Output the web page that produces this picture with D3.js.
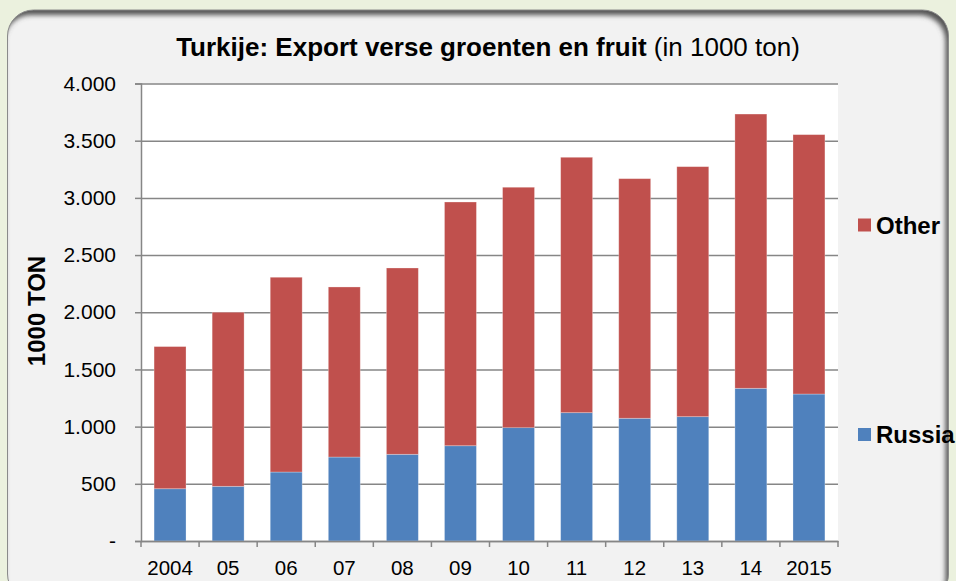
<!DOCTYPE html>
<html>
<head>
<meta charset="utf-8">
<script src="https://cdn.jsdelivr.net/npm/d3@7"></script>
<style>
  html, body { margin: 0; padding: 0; background: #ebf1de; }
  svg { display: block; font-family: Arial, "Liberation Sans", sans-serif; }
</style>
</head>
<body>
<div id="chart"></div>
<script>
// data (1000 ton)
var years = ["2004", "05", "06", "07", "08", "09", "10", "11", "12", "13", "14", "2015"];
var russia = [457, 478, 603, 734, 758, 833, 991, 1122, 1073, 1087, 1335, 1285];
var other = [1243, 1522, 1703, 1487, 1629, 2131, 2102, 2233, 2095, 2186, 2398, 2268];
var yTicks = [0, 500, 1000, 1500, 2000, 2500, 3000, 3500, 4000];
var seriesNames = ["Russia", "Other"];
var seriesColors = ["#4f81bd", "#c0504d"];

var full_width = 956, full_height = 581;
var plot = {left: 141, right: 838, top: 83.5, bottom: 541};

var svg = d3.select("#chart")
    .append("svg")
    .attr("width", full_width)
    .attr("height", full_height);

// rounded panel with an inner shadow on top / right
function roundRect(x, y, w, h, r) {
    return "M" + (x + r) + "," + y + "H" + (x + w - r) +
        "A" + r + "," + r + " 0 0 1 " + (x + w) + "," + (y + r) +
        "V" + (y + h - r) +
        "A" + r + "," + r + " 0 0 1 " + (x + w - r) + "," + (y + h) +
        "H" + (x + r) +
        "A" + r + "," + r + " 0 0 1 " + x + "," + (y + h - r) +
        "V" + (y + r) +
        "A" + r + "," + r + " 0 0 1 " + (x + r) + "," + y + "Z";
}
var panel = {x: 7.5, y: 10, w: 941, h: 590, r: 26};
var defs = svg.append("defs");
defs.append("clipPath").attr("id", "panelClip")
    .append("path").attr("d", roundRect(panel.x, panel.y, panel.w, panel.h, panel.r));
defs.append("filter").attr("id", "blur")
    .attr("x", "-10%").attr("y", "-10%").attr("width", "120%").attr("height", "120%")
    .append("feGaussianBlur").attr("stdDeviation", 2.5);

svg.append("path")
    .attr("d", roundRect(panel.x, panel.y, panel.w, panel.h, panel.r))
    .attr("fill", "#f2f2f2");

svg.append("g")
    .attr("clip-path", "url(#panelClip)")
    .append("path")
    .attr("d", "M-50,-50H1050V700H-50Z" + roundRect(panel.x - 3, panel.y + 5, panel.w, panel.h, panel.r))
    .attr("fill-rule", "evenodd")
    .attr("fill", "#555555")
    .attr("filter", "url(#blur)");

svg.append("path")
    .attr("d", roundRect(panel.x, panel.y, panel.w, panel.h, panel.r))
    .attr("fill", "none")
    .attr("stroke", "#8a8a8a")
    .attr("stroke-width", 1);

// plot area
svg.append("rect")
    .attr("x", plot.left).attr("y", plot.top)
    .attr("width", plot.right - plot.left)
    .attr("height", plot.bottom - plot.top)
    .attr("fill", "#ffffff");

var x = d3.scaleBand()
    .domain(years)
    .range([plot.left, plot.right])
    .paddingInner(0.45)
    .paddingOuter(0.225);

var y = d3.scaleLinear()
    .domain([0, 4000])
    .range([plot.bottom, plot.top]);

// gridlines + y axis
var yAxis = svg.append("g")
    .attr("transform", "translate(" + plot.left + ",0)")
    .call(d3.axisLeft(y)
        .tickValues(yTicks)
        .tickSize(6)
        .tickPadding(19)
        .tickFormat(function(d) { return d === 0 ? "-" : d3.format(",")(d).replace(/,/g, "."); }));
yAxis.select(".domain").attr("stroke", "#868686").attr("stroke-width", 1.5);
yAxis.selectAll(".tick line").attr("stroke", "#868686").attr("stroke-width", 1.5);
yAxis.selectAll(".tick")
    .append("line")
    .attr("x1", 0).attr("x2", plot.right - plot.left)
    .attr("stroke", "#868686").attr("stroke-width", 1.5);
yAxis.selectAll("text")
    .style("font-size", "21px")
    .attr("fill", "#000");

// stacked bars
var table = years.map(function(yr, i) {
    return {year: yr, Russia: russia[i], Other: other[i]};
});
var stacked = d3.stack().keys(seriesNames)(table);

svg.append("g")
    .selectAll("g")
    .data(stacked)
    .enter().append("g")
    .attr("fill", function(d, i) { return seriesColors[i]; })
    .selectAll("rect")
    .data(function(d) { return d; })
    .enter().append("rect")
    .attr("x", function(d) { return x(d.data.year); })
    .attr("y", function(d) { return y(d[1]); })
    .attr("width", x.bandwidth())
    .attr("height", function(d) { return y(d[0]) - y(d[1]); })
    .attr("stroke", "#ffffff")
    .attr("stroke-opacity", 0.35)
    .attr("stroke-width", 0.8);

// x axis with ticks between categories
var xAxis = svg.append("g")
    .attr("transform", "translate(0," + plot.bottom + ")")
    .call(d3.axisBottom(x).tickSize(0).tickPadding(19));
xAxis.select(".domain").attr("stroke", "#868686").attr("stroke-width", 1.5);
xAxis.selectAll("text")
    .style("font-size", "20.5px")
    .attr("fill", "#000");
var bounds = years.map(function(yr) { return x(yr) - x.step() * x.paddingInner() / 2; });
bounds.push(plot.right);
xAxis.selectAll(".sep")
    .data(bounds)
    .enter().append("line")
    .attr("class", "sep")
    .attr("x1", function(d) { return d; })
    .attr("x2", function(d) { return d; })
    .attr("y1", 0).attr("y2", 6)
    .attr("stroke", "#868686").attr("stroke-width", 1.5);

// title
var title = svg.append("text")
    .attr("x", 488)
    .attr("y", 56)
    .attr("text-anchor", "middle")
    .style("font-size", "26px");
title.append("tspan").style("font-weight", "bold").text("Turkije: Export verse groenten en fruit");
title.append("tspan").text(" (in 1000 ton)");

// y axis label
svg.append("text")
    .attr("transform", "translate(45,311) rotate(-90)")
    .attr("text-anchor", "middle")
    .style("font-size", "24px")
    .style("font-weight", "bold")
    .text("1000 TON");

// legend
var legendItems = [
    {name: "Other", color: seriesColors[1], cy: 225},
    {name: "Russia", color: seriesColors[0], cy: 434.5}
];
var legend = svg.selectAll(".legend")
    .data(legendItems)
    .enter().append("g")
    .attr("class", "legend")
    .attr("transform", function(d) { return "translate(858," + d.cy + ")"; });
legend.append("rect")
    .attr("x", 0).attr("y", -6.5)
    .attr("width", 13).attr("height", 13)
    .attr("fill", function(d) { return d.color; });
legend.append("text")
    .attr("x", 18)
    .attr("dy", "0.36em")
    .style("font-size", "24px")
    .style("font-weight", "bold")
    .text(function(d) { return d.name; });
</script>
</body>
</html>
